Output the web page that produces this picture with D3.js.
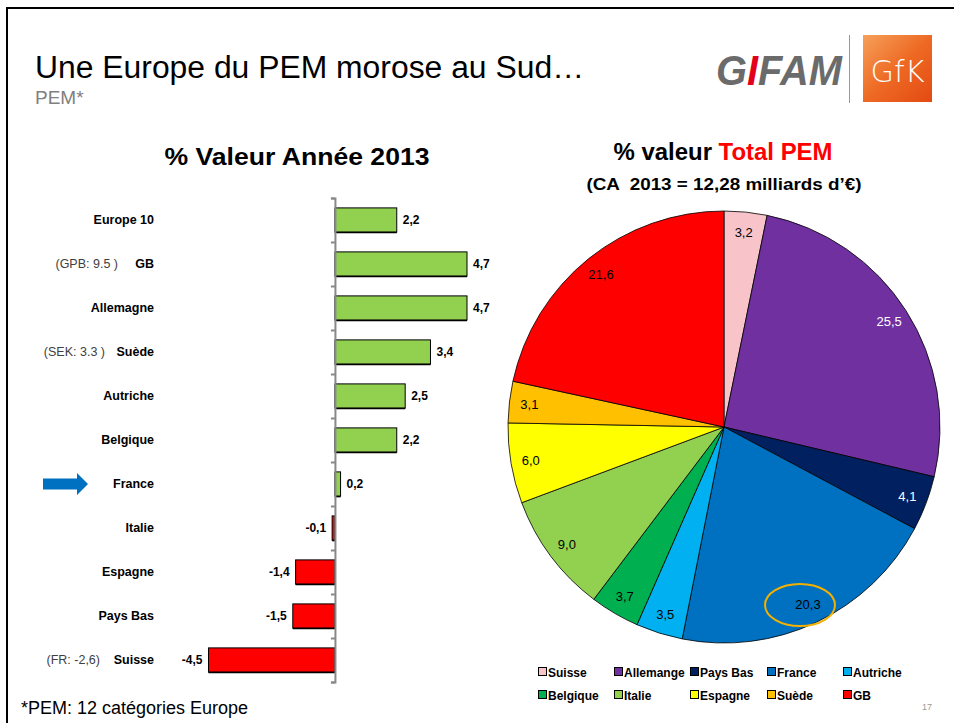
<!DOCTYPE html>
<html><head><meta charset="utf-8">
<script src="https://cdn.jsdelivr.net/npm/d3@7"></script>
<style>body{margin:0;background:#fff;}svg{display:block;font-family:"Liberation Sans",Arial,sans-serif;}</style>
</head><body>
<script>
// ---- Data ----
const barCategories = ["Europe 10","GB","Allemagne","Suède","Autriche","Belgique","France","Italie","Espagne","Pays Bas","Suisse"];
const barValues = [2.2,4.7,4.7,3.4,2.5,2.2,0.2,-0.1,-1.4,-1.5,-4.5];
const barValueLabels = ["2,2","4,7","4,7","3,4","2,5","2,2","0,2","-0,1","-1,4","-1,5","-4,5"];
const barNotes = {"GB":"(GPB: 9.5 )","Suède":"(SEK: 3.3 )","Suisse":"(FR: -2,6)"};
const pieCategories = ["Suisse","Allemange","Pays Bas","France","Autriche","Belgique","Italie","Espagne","Suède","GB"];
const pieValues = [3.2,25.5,4.1,20.3,3.5,3.7,9.0,6.0,3.1,21.6];
const pieLabels = ["3,2","25,5","4,1","20,3","3,5","3,7","9,0","6,0","3,1","21,6"];
const pieColors = ["#F8C4CA","#7030A0","#002060","#0070C0","#00B0F0","#00B050","#92D050","#FFFF00","#FFC000","#FF0000"];
const pieLabelColors = ["#000","#fff","#fff","#000","#000","#000","#000","#000","#000","#000"];

const W=954,H=723;
const svg=d3.select("body").append("svg").attr("width",W).attr("height",H);

// frame
svg.append("path").attr("d","M7,723 V8 H954").attr("fill","none").attr("stroke","#000").attr("stroke-width",2);

// title
svg.append("text").attr("x",35).attr("y",78).attr("font-size",31).attr("textLength",549).attr("lengthAdjust","spacingAndGlyphs").text("Une Europe du PEM morose au Sud…");
svg.append("text").attr("x",35).attr("y",104).attr("font-size",19).attr("fill","#808080").text("PEM*");

// logos
const gif=svg.append("text").attr("x",716).attr("y",85).attr("font-size",42).attr("font-weight","bold").attr("font-style","italic").attr("fill","#6b6b6b").attr("textLength",126).attr("lengthAdjust","spacingAndGlyphs");
gif.append("tspan").text("G");
gif.append("tspan").attr("fill","#E3001B").text("I");
gif.append("tspan").text("FAM");
svg.append("line").attr("x1",849.5).attr("x2",849.5).attr("y1",35).attr("y2",103).attr("stroke","#999");
const defs=svg.append("defs");
const lg=defs.append("linearGradient").attr("id","gfk").attr("x1","0").attr("y1","0").attr("x2","1").attr("y2","1");
lg.append("stop").attr("offset","0").attr("stop-color","#F6A05A");
lg.append("stop").attr("offset","0.5").attr("stop-color","#EE6A24");
lg.append("stop").attr("offset","1").attr("stop-color","#E34A12");
svg.append("rect").attr("x",863).attr("y",35).attr("width",69).attr("height",67).attr("fill","url(#gfk)");
svg.append("text").attr("x",897.5).attr("y",82).attr("text-anchor","middle").attr("font-size",30).attr("fill","#fff").attr("font-family","'DejaVu Sans',sans-serif").attr("font-weight","300").attr("textLength",54).attr("lengthAdjust","spacingAndGlyphs").text("GfK");

// ---- Bar chart ----
svg.append("text").attr("x",297).attr("y",165).attr("text-anchor","middle").attr("font-size",23).attr("font-weight","bold").attr("textLength",265).attr("lengthAdjust","spacingAndGlyphs").text("% Valeur Année 2013");

const x=d3.scaleLinear().domain([-4.5,4.7]).range([208.5,467]);
const y=d3.scaleBand().domain(barCategories).range([198,682]).paddingInner(0.45).paddingOuter(0.225);
const bars=barCategories.map((c,i)=>({c,v:barValues[i],l:barValueLabels[i]}));

svg.append("g").selectAll("rect").data(bars).join("rect")
  .attr("x",d=>x(Math.min(0,d.v))).attr("y",d=>y(d.c))
  .attr("width",d=>Math.abs(x(d.v)-x(0))).attr("height",y.bandwidth())
  .attr("fill",d=>d.v>=0?"#92D050":"#FF0000").attr("stroke","#000").attr("stroke-width",1);
svg.append("g").selectAll("line").data(bars).join("line")
  .attr("x1",d=>x(Math.min(0,d.v))).attr("x2",d=>x(Math.max(0,d.v)))
  .attr("y1",d=>y(d.c)+y.bandwidth()+0.5).attr("y2",d=>y(d.c)+y.bandwidth()+0.5).attr("stroke","#000").attr("stroke-width",1.5);

// axis with ticks at band boundaries
const yb=d3.scaleLinear().domain([0,barCategories.length]).range([198,682]);
const ax=svg.append("g").attr("transform",`translate(${x(0)},0)`).call(d3.axisLeft(yb).ticks(barCategories.length).tickSize(4).tickFormat(""));
ax.selectAll("path").attr("stroke","#888").attr("stroke-width",2);
ax.selectAll("line").attr("stroke","#888").attr("stroke-width",2);

svg.append("g").selectAll("text").data(bars).join("text")
  .attr("x",d=>d.v>=0?x(d.v)+6:x(d.v)-6).attr("y",d=>y(d.c)+y.bandwidth()/2+4)
  .attr("text-anchor",d=>d.v>=0?"start":"end").attr("font-size",12).attr("font-weight","bold").text(d=>d.l);

svg.append("g").selectAll("text").data(bars).join("text")
  .attr("x",154).attr("y",d=>y(d.c)+y.bandwidth()/2+4).attr("text-anchor","end")
  .attr("font-size",12.5).attr("font-weight","bold").text(d=>d.c);
svg.append("g").selectAll("text").data(bars.filter(d=>barNotes[d.c])).join("text")
  .attr("x",d=>({"GB":118,"Suède":105,"Suisse":100})[d.c]).attr("y",d=>y(d.c)+y.bandwidth()/2+4).attr("text-anchor","end")
  .attr("font-size",12.5).attr("fill","#404040").text(d=>barNotes[d.c]);

// arrow near France
const fy=y("France")+y.bandwidth()/2;
svg.append("path").attr("d",`M43,${fy-5.5} H77 V${fy-11} L88,${fy} L77,${fy+11} V${fy+5.5} H43 Z`).attr("fill","#0070C0");

// ---- Pie ----
const pt=svg.append("text").attr("x",723).attr("y",160).attr("text-anchor","middle").attr("font-size",23).attr("font-weight","bold").attr("textLength",219).attr("lengthAdjust","spacingAndGlyphs");
pt.append("tspan").text("% valeur ");
pt.append("tspan").attr("fill","#FF0000").text("Total PEM");
svg.append("text").attr("x",724).attr("y",190).attr("text-anchor","middle").attr("font-size",17).attr("font-weight","bold").attr("xml:space","preserve").attr("textLength",275).attr("lengthAdjust","spacingAndGlyphs").text("(CA  2013 = 12,28 milliards d’€)");

const cx=724,cy=427,R=216;
const pie=d3.pie().sort(null).value(d=>d.v);
const slices=pie(pieCategories.map((c,i)=>({c,v:pieValues[i],l:pieLabels[i],col:pieColors[i],tc:pieLabelColors[i]})));
const arc=d3.arc().innerRadius(0).outerRadius(R);
const larc=d3.arc().innerRadius(196).outerRadius(196);
const pg=svg.append("g").attr("transform",`translate(${cx},${cy})`);
pg.selectAll("path").data(slices).join("path").attr("d",arc).attr("fill",d=>d.data.col).attr("stroke","#000").attr("stroke-width",0.8);
pg.selectAll("text").data(slices).join("text")
  .attr("transform",d=>`translate(${larc.centroid(d)})`).attr("dy","0.35em").attr("text-anchor","middle")
  .attr("font-size",13).attr("fill",d=>d.data.tc).text(d=>d.data.l);
svg.append("ellipse").attr("cx",800).attr("cy",605).attr("rx",35).attr("ry",21).attr("fill","none").attr("stroke","#F2B000").attr("stroke-width",2);

// legend
const legX=[538,614,690,767,843], legY=[672,695];
const lgG=svg.append("g").selectAll("g").data(slices.map(d=>d.data)).join("g")
  .attr("transform",(d,i)=>`translate(${legX[i%5]},${legY[Math.floor(i/5)]})`);
lgG.append("rect").attr("x",0.5).attr("y",-4.5).attr("width",8).attr("height",8).attr("fill",d=>d.col).attr("stroke","#000").attr("stroke-width",1);
lgG.append("text").attr("x",10).attr("y",4.5).attr("font-size",12).attr("font-weight","bold").text(d=>d.c);

// footer
svg.append("text").attr("x",21).attr("y",714).attr("font-size",18).text("*PEM: 12 catégories Europe");
svg.append("text").attr("x",932).attr("y",710).attr("text-anchor","end").attr("font-size",9).attr("fill","#999").text("17");
</script>
</body></html>
